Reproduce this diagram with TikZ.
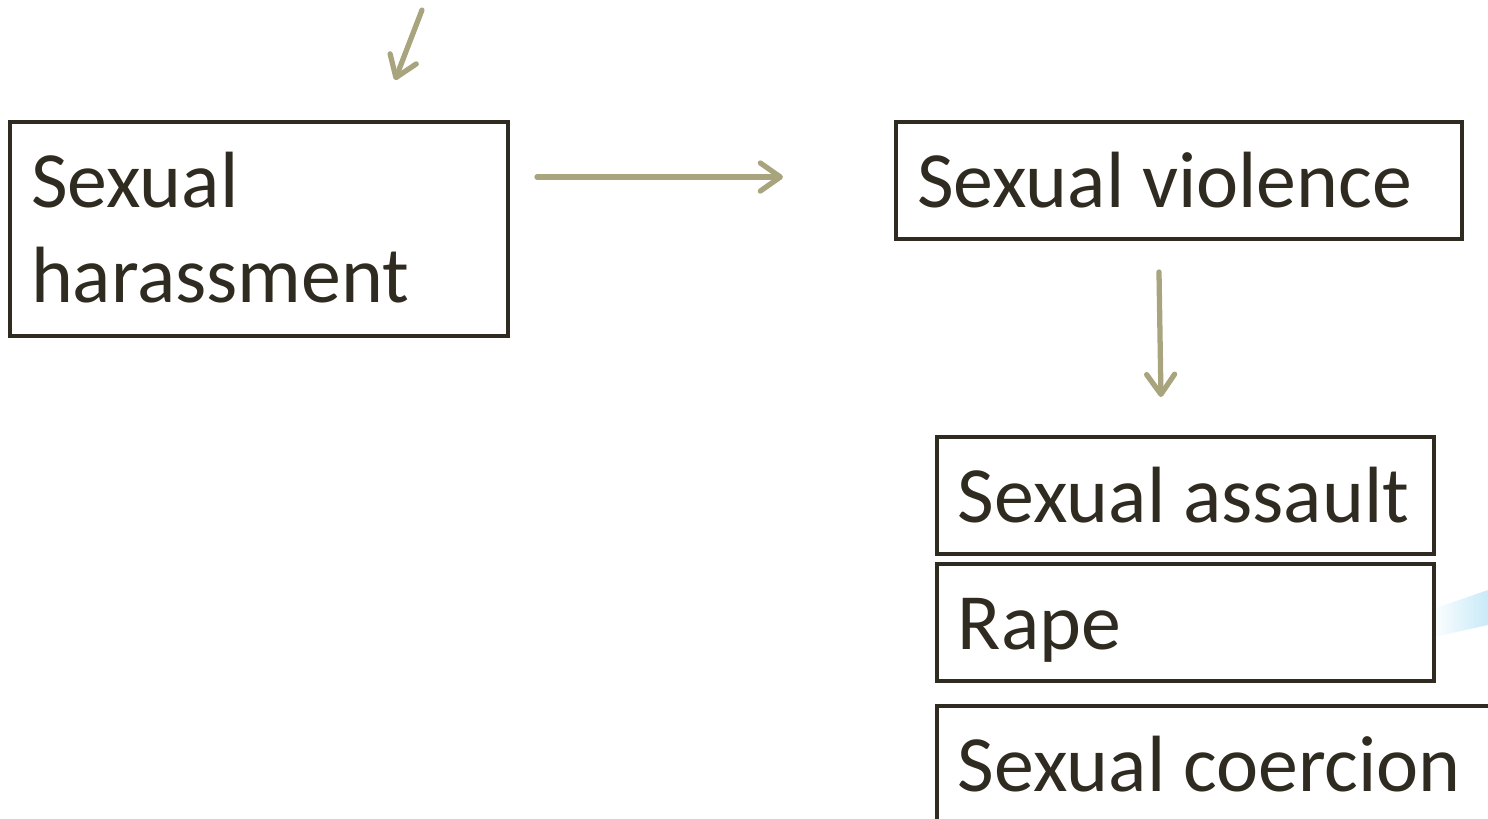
\documentclass[tikz,border=0pt]{standalone}
\usepackage{fontspec}
\setmainfont{Carlito}
\usepackage{tikz}
\usetikzlibrary{positioning, arrows.meta, calc, backgrounds}

\definecolor{boxline}{RGB}{47,43,32}
\definecolor{flowline}{RGB}{168,165,126}
\definecolor{swoosh}{RGB}{200,234,248}

\begin{document}
\begin{tikzpicture}[
                font=\fontsize{22.7}{27.3}\selectfont,
                box/.style={rectangle, draw=boxline, line width=1.35pt, fill=white, text=boxline, outer sep=0pt, inner xsep=0.21cm, inner ysep=0pt, anchor=north west, align=flush left, minimum height=1.17cm, text height=0.73cm, text depth=0.20cm, execute at begin node={\hyphenpenalty=10000}},
                flow/.style={-{Straight Barb[length=2mm, width=2.8mm, round]}, line width=1.5pt, draw=flowline, line cap=round}
            ]

            \useasboundingbox (0,0) rectangle (14.88,-8.19);

            % Background swoosh
            \shade[left color=white, right color=swoosh] (14.30,-6.10) -- (14.88,-5.90) -- (14.88,-6.25) -- (14.30,-6.38) -- cycle;

            % Nodes
            \node[box, text width=4.56cm, minimum height=2.14cm, text depth=1.17cm] (harass) at (0.10,-1.22) {Sexual\\harassment};
            \node[box, text width=5.24cm] (violence) at (8.96,-1.22) {Sexual violence};
            \node[box, text width=4.55cm] (assault) at (9.37,-4.37) {\mbox{Sexual assault}};
            \node[box, text width=4.55cm, below=0.10cm of assault] (rape) {Rape};
            \node[box, text width=5.64cm, below=0.25cm of rape.south west, anchor=north west] (coercion) {Sexual coercion};

            \coordinate (topin) at (4.22,-0.10);
            \coordinate (toptip) at (3.95,-0.80);

            % Routing/edges
            \draw[flow] (topin) -- (toptip);
            \draw[flow] ($(harass.north east)+(0.29,-0.55)$) -- ($(violence.north west)+(-1.13,-0.55)$);
            \draw[flow] ($(violence.south west)+(2.63,-0.33)$) -- ($(assault.north west)+(2.24,0.40)$);

        \end{tikzpicture}
\end{document}
